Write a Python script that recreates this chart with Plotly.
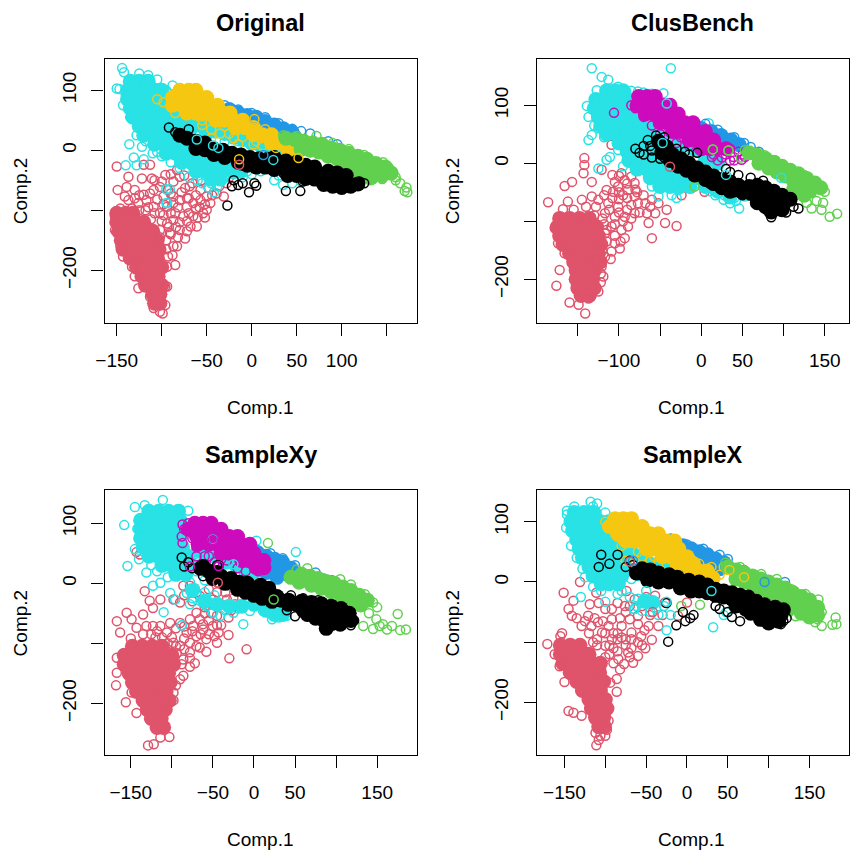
import plotly.graph_objects as go

BLACK, RED, GREEN, BLUE, CYAN, MAGENTA, YELLOW = "#000000", "#DF536B", "#61D04F", "#2297E6", "#28E2E5", "#CD0BBC", "#F5C710"

titles = ["Original", "ClusBench", "SampleXy", "SampleX"]
x_ticks = [[-150, -100, -50, 0, 50, 100, 150], [-200, -150, -100, -50, 0, 50, 100, 150],
           [-150, -100, -50, 0, 50, 100, 150], [-150, -100, -50, 0, 50, 100, 150]]
x_labels = [["−150", "", "−50", "0", "50", "100", ""], ["−200", "", "−100", "", "0", "50", "", "150"],
            ["−150", "", "−50", "0", "50", "", "150"], ["−150", "", "−50", "0", "50", "", "150"]]
y_ticks = [-200, -100, 0, 100]
y_labels = ["−200", "", "0", "100"]
x_ranges = [[-163.6, 183.7], [-199.9, 179.4], [-182, 198.5], [-184, 198.4]]
y_ranges = [[-287.8, 153], [-275.3, 180.7], [-286, 155], [-287, 152]]

# ---------- Original ----------
p1_red_core = [(-150,-105),(-140,-105),(-132,-105),(-150,-120),(-140,-120),(-130,-120),(-120,-120),(-148,-135),(-138,-135),(-128,-135),(-118,-135),(-110,-135),(-145,-150),(-135,-150),(-125,-150),(-115,-150),(-105,-150),(-143,-165),(-133,-165),(-123,-165),(-113,-165),(-103,-165),(-135,-180),(-125,-180),(-115,-180),(-105,-180),(-128,-195),(-118,-195),(-108,-195),(-100,-195),(-122,-210),(-112,-210),(-104,-210),(-118,-225),(-108,-225),(-100,-225),(-110,-240),(-102,-240),(-108,-255),(-102,-255)]
p1_red_open = [(-150,-27),(-137,-44),(-139,-61),(-149,-66),(-130,-66),(-122,-47),(-120,-24),(-113,-24),(-111,-47),(-141,-77),(-137,-83),(-120,-74),(-117,-83),(-126,-88),(-96,-41),(-102,-61),(-93,-66),(-83,-33),(-87,-52),(-76,-22),(-74,-63),(-70,-80),(-61,-38),(-50,-99),(-61,-127),(-68,-127),(-74,-147),(-85,-191),(-83,-160),(-94,-227),(-99,-272),(-152,-133),(-109,-94),(-102,-105),(-94,-94),(-87,-88),(-80,-83),(-72,-94),(-65,-88),(-57,-83),(-50,-77),(-46,-88),(-54,-105),(-65,-110),(-76,-110),(-87,-116),(-94,-122),(-80,-133),(-91,-138),(-102,-133),(-87,-160),(-93,-177),(-94,-194),(-39,-72),(-31,-77),(-43,-49),(-57,-66),(-69,-60),(-80,-44),(-87,-77),(-98,-77),(-109,-66),(-28,-55),(-50,-38),(-31,-22),(-152,-110),(-146,-97),(-133,-97),(-146,-160),(-143,-177),(-133,-194),(-130,-210),(-126,-230),(-113,-244),(-109,-263),(-102,-269),(-96,-258),(-96,-227),(-125,-75),(-113,-72),(-105,-82),(-98,-90),(-90,-72),(-82,-95),(-72,-80),(-62,-75),(-52,-90),(-44,-75),(-118,-100),(-108,-105),(-100,-118),(-90,-105),(-80,-120),(-70,-105),(-60,-112),(-52,-112),(-102,-145),(-92,-128),(-82,-145),(-72,-135),(-95,-165),(-88,-175),(-90,-140),(-78,-70),(-66,-55),(-56,-50),(-48,-62),(-36,-60),(-25,-45),(-130,-80),(-108,-50),(-100,-52),(-90,-40),(-75,-42),(-65,-28),(-55,-25),(-42,-35),(-20,-35),(-115,-95),(-125,-100),(-112,-115),(-98,-108),(-85,-105),(-72,-118),(-62,-98),(-58,-95),(-84,-128),(-95,-150)]
p1_cyan_core = [(-135,115),(-125,115),(-115,115),(-138,100),(-128,100),(-118,100),(-108,100),(-100,100),(-138,85),(-128,85),(-118,85),(-108,85),(-98,85),(-88,85),(-135,70),(-125,70),(-115,70),(-105,70),(-95,70),(-85,70),(-75,70),(-132,55),(-122,55),(-112,55),(-102,55),(-92,55),(-82,55),(-72,55),(-62,55),(-125,40),(-115,40),(-105,40),(-95,40),(-85,40),(-75,40),(-65,40),(-55,40),(-120,25),(-110,25),(-100,25),(-90,25),(-80,25),(-70,25),(-108,10),(-98,10),(-88,10),(-78,10),(-68,10),(-58,10),(-95,-5),(-85,-5),(-75,-5),(-65,-5),(-55,-5),(-45,-5),(-78,-20),(-68,-20),(-58,-20),(-48,-20),(-38,-20),(-28,-20),(-62,-35),(-52,-35),(-42,-35),(-32,-35),(-22,-35),(-12,-35),(-45,-48),(-35,-48),(-50,28),(-40,32),(-30,28),(-20,22),(-10,18),(0,12),(10,8),(20,3),(30,0),(-45,42),(-30,40),(-15,35)]
p1_cyan_open = [(-144,137),(-142,130),(-125,128),(-115,125),(-105,118),(-150,103),(-147,102),(-140,92),(-95,100),(-88,108),(-143,75),(-135,55),(-136,10),(-122,6),(-131,-12),(-140,-25),(-128,-25),(-120,-15),(-110,-5),(-100,-10),(-90,-20),(-80,-30),(-65,-25),(-55,-35),(-60,-50),(-45,-55),(-42,-70),(-30,-45),(-20,-40),(-10,-45),(-5,-35),(-40,-30),(-70,-45),(-95,-65),(-94,-88),(25,-50),(35,-58),(45,-55),(55,-52),(30,-42),(42,-45),(0,-40),(10,-35),(-100,92),(-92,85),(-60,65),(-50,50),(-40,40),(-25,35),(-15,15),(-5,20),(-30,15),(-128,25),(-118,15),(-105,-3),(-55,-55),(-48,-62),(-38,-60)]
p1_blue_core = [(-25,68),(-15,62),(-5,58),(5,55),(15,48),(25,42),(35,36),(45,30),(-10,50),(5,42),(20,35),(35,26),(48,22)]
p1_blue_open = [(-30,75),(-15,68),(0,62),(15,55),(30,45),(45,36),(55,32),(65,28),(85,15),(95,10)]
p1_yellow_core = [(-80,100),(-70,100),(-62,100),(-88,88),(-78,88),(-68,88),(-58,88),(-50,88),(-88,75),(-78,75),(-68,75),(-58,75),(-48,75),(-38,75),(-72,62),(-62,62),(-52,62),(-42,62),(-32,62),(-24,62),(-40,50),(-30,50),(-20,50),(-10,50),(-18,38),(-8,38),(2,38),(2,26),(12,26),(22,26),(22,12),(32,12),(40,2),(48,2)]
p1_yellow_open = [(-105,85),(-98,80),(-90,72),(-85,62),(-70,62),(-60,58),(-48,58),(-55,50),(-35,50),(-30,40),(-18,35),(-8,40),(-20,20),(-10,22),(-2,30),(10,20),(20,28),(28,20),(40,10),(50,-8),(30,-5),(-35,28),(-45,35),(-55,42),(-25,28),(-15,10),(2,10),(12,8),(15,35),(5,15),(-45,20)]
p1_green_core = [(38,20),(48,18),(58,15),(68,12),(78,10),(88,4),(98,0),(108,-5),(118,-10),(128,-15),(138,-22),(148,-28),(155,-38),(55,2),(65,0),(75,-3),(85,-10),(95,-14),(105,-20),(115,-26),(125,-32),(135,-38),(145,-42),(100,-28),(118,-38),(132,-46)]
p1_green_open = [(35,25),(50,24),(72,24),(90,12),(108,2),(125,-8),(146,-20),(152,-28),(170,-68),(172,-62),(165,-55),(160,-50),(155,-40),(173,-70),(145,-48),(135,-48),(150,-25),(160,-45)]
p1_black_core = [(-80,25),(-72,20),(-62,15),(-52,12),(-62,3),(-52,1),(-42,2),(-32,0),(-22,-5),(-42,-7),(-30,-12),(-12,-8),(-2,-12),(8,-14),(18,-15),(28,-20),(-15,-20),(-5,-25),(5,-28),(15,-28),(25,-32),(35,-30),(45,-30),(55,-32),(65,-35),(40,-42),(50,-42),(60,-47),(70,-48),(75,-40),(85,-45),(95,-48),(105,-50),(80,-57),(90,-60),(100,-62),(110,-60),(118,-56),(85,-35),(95,-38),(105,-42),(-8,-22),(25,-12),(38,-18),(50,-20),(60,-25),(70,-28)]
p1_black_open = [(-92,38),(-85,30),(-27,-92),(-3,-70),(5,-59),(38,-68),(54,-68),(-22,-60),(-15,-58),(-10,-55),(3,-55),(-20,-50),(57,-52),(125,-55),(120,-52),(-70,35),(-12,-25),(35,-38)]
p1_over = [(CYAN,-61,18),(CYAN,-43,8),(CYAN,-37,4),(CYAN,24,-16),(BLUE,13,-8),(YELLOW,-14,-15),(YELLOW,52,-13),(BLUE,3,52),(YELLOW,3,52),(CYAN,-91,-65),(CYAN,-95,-88),(YELLOW,27,4),(RED,-14,-24)]

# ---------- ClusBench ----------
p2_red_core = [(-172,-95),(-160,-95),(-148,-95),(-136,-95),(-175,-110),(-163,-110),(-151,-110),(-139,-110),(-127,-110),(-172,-125),(-160,-125),(-148,-125),(-136,-125),(-125,-125),(-168,-140),(-156,-140),(-144,-140),(-132,-140),(-122,-140),(-160,-155),(-148,-155),(-136,-155),(-125,-155),(-155,-170),(-143,-170),(-131,-170),(-123,-170),(-152,-185),(-140,-185),(-130,-185),(-152,-200),(-142,-200),(-132,-200),(-150,-215),(-140,-215),(-130,-215),(-146,-228),(-136,-228)]
p2_red_open = [(-186,-67),(-176,-211),(-172,-184),(-157,-32),(-166,-39),(-142,9),(-142,-3),(-143,-17),(-133,-32),(-121,-11),(-115,-46),(-168,-79),(-162,-66),(-141,-259),(-160,-240),(-149,-244),(-137,-233),(-125,-221),(-121,-178),(-119,-195),(-178,-112),(-174,-138),(-166,-155),(-145,-63),(-133,-57),(-125,-63),(-113,-69),(-101,-75),(-117,-86),(-105,-92),(-93,-92),(-89,-109),(-97,-115),(-93,-129),(-105,-138),(-109,-152),(-117,-161),(-99,-147),(-117,-121),(-109,-109),(-105,-32),(-97,-17),(-93,-29),(-85,-23),(-81,-34),(-89,-46),(-101,-40),(-107,-49),(-81,-57),(-77,-69),(-81,-86),(-68,-69),(-66,-86),(-56,-86),(-60,-63),(-52,-69),(-42,-80),(-64,-103),(-44,-103),(-30,-108),(-60,-129),(-38,-6),(-56,-23),(-48,-23),(-24,-55),(-12,-43),(4,-49),(-109,32),(-140,-75),(-128,-75),(-118,-55),(-108,-60),(-100,-62),(-90,-60),(-85,-72),(-112,-80),(-100,-85),(-90,-80),(-78,-50),(-70,-55),(-62,-75),(-118,-105),(-105,-105),(-95,-100),(-85,-95),(-75,-85),(-125,-140),(-115,-135),(-105,-125),(-120,-150),(-110,-165),(-98,-135),(-128,-165),(-122,-190),(-95,-55),(-100,-22),(-90,-35),(-108,-20),(-100,-50),(-80,-45),(-155,-80),(-130,-90),(-120,-95),(-122,-205),(-115,-115)]
p2_cyan_core = [(-115,125),(-105,125),(-95,125),(-128,110),(-116,110),(-104,110),(-92,110),(-80,110),(-130,95),(-118,95),(-106,95),(-94,95),(-82,95),(-125,80),(-113,80),(-101,80),(-89,80),(-77,80),(-68,80),(-122,65),(-110,65),(-98,65),(-86,65),(-74,65),(-62,65),(-115,50),(-103,50),(-91,50),(-79,50),(-67,50),(-55,50),(-100,35),(-88,35),(-76,35),(-64,35),(-54,35),(-90,20),(-78,20),(-66,20),(-55,20),(-88,5),(-76,5),(-64,5),(-52,5),(-40,5),(-78,-10),(-66,-10),(-54,-10),(-42,-10),(-30,-10),(-18,-10),(-62,-25),(-50,-25),(-38,-25),(-26,-25),(-14,-25),(-5,-25),(-50,-40),(-38,-40),(-26,-40),(-14,-40),(-45,35),(-35,40),(-25,30),(-10,25),(0,20),(10,10),(-35,55),(-20,40),(5,5),(20,0),(5,-40),(20,-48),(35,-58)]
p2_cyan_open = [(-133,164),(-37,164),(-121,149),(-113,144),(-101,132),(-127,126),(-139,99),(-137,80),(-137,40),(-133,49),(-91,124),(-77,124),(-46,121),(-42,103),(-125,-9),(-115,6),(-111,11),(-101,23),(-60,-40),(-36,-55),(-52,-57),(-28,-46),(-20,-32),(17,-55),(27,-63),(35,-69),(46,-78),(9,-40),(53,-57),(9,69),(-85,125),(-128,110),(-130,65),(-118,45),(-40,-15),(-20,-15),(-5,-35),(15,-45),(40,-60),(-30,-60),(22,-50),(32,-58),(42,-65),(10,-48),(28,-55),(-125,60),(-95,-5),(-60,120),(-70,122)]
p2_blue_core = [(0,60),(12,55),(24,48),(36,40),(46,32),(20,38),(34,28)]
p2_blue_open = [(5,68),(20,58),(40,45),(52,35),(60,28),(70,20)]
p2_magenta_core = [(-76,115),(-66,115),(-56,115),(-78,100),(-68,100),(-58,100),(-48,100),(-38,100),(-68,85),(-58,85),(-48,85),(-38,85),(-28,85),(-50,70),(-40,70),(-30,70),(-20,70),(-10,70),(-35,55),(-25,55),(-15,55),(-5,55),(5,55),(-15,40),(-5,40),(5,40),(15,40),(0,25),(10,25),(20,25),(30,25)]
p2_magenta_open = [(-85,100),(-80,95),(-70,80),(-60,65),(-50,50),(-40,55),(-25,45),(-15,30),(0,25),(-12,55),(3,50),(15,15),(25,10),(35,25),(39,11),(49,6),(53,11),(13,11),(45,20),(40,5),(30,15),(35,5),(50,15),(20,5),(-30,35),(-45,35)]
p2_green_core = [(58,18),(68,14),(78,8),(88,2),(98,-5),(108,-12),(118,-18),(128,-26),(138,-34),(145,-42),(70,0),(82,-8),(92,-15),(102,-22),(112,-30),(122,-38),(132,-48),(112,-45),(125,-55)]
p2_green_open = [(53,23),(62,18),(77,14),(90,5),(110,-11),(125,-20),(142,-37),(150,-49),(165,-87),(156,-92),(134,-78),(146,-80),(140,-65),(148,-68),(128,-68),(14,24),(33,22),(-8,-40)]
p2_black_core = [(-52,38),(-42,28),(-48,18),(-35,15),(-25,8),(-38,5),(-15,0),(-28,-5),(-5,-8),(-18,-12),(5,-15),(-8,-20),(15,-22),(5,-28),(25,-28),(15,-35),(35,-32),(25,-42),(45,-38),(35,-48),(50,-50),(58,-40),(68,-38),(78,-42),(88,-48),(98,-55),(108,-62),(60,-52),(70,-55),(80,-60),(90,-65),(100,-70),(68,-68),(78,-75),(88,-80),(98,-80),(85,-84)]
p2_black_open = [(-80,25),(-70,30),(-60,22),(-65,40),(-55,48),(-45,45),(-70,15),(-45,10),(-30,25),(-15,15),(-5,18),(10,-35),(25,-45),(40,-50),(50,-55),(112,-75),(118,-78),(103,-85),(85,-93),(30,-10),(45,-20),(-75,18),(-60,10),(-62,30),(-50,8),(-20,20),(35,-15),(60,-25),(75,-30)]
p2_over = [(CYAN,-42,103),(MAGENTA,-106,87),(RED,-38,-6),(CYAN,97,-25),(GREEN,33,22),(GREEN,14,24),(GREEN,48,10),(CYAN,-47,35),(CYAN,30,-20),(CYAN,-53,-40)]

# ---------- SampleXy ----------
p3_red_core = [(-148,-105),(-136,-105),(-124,-105),(-112,-105),(-158,-120),(-146,-120),(-134,-120),(-122,-120),(-110,-120),(-100,-120),(-158,-135),(-146,-135),(-134,-135),(-122,-135),(-110,-135),(-98,-135),(-152,-150),(-140,-150),(-128,-150),(-116,-150),(-104,-150),(-148,-165),(-136,-165),(-124,-165),(-112,-165),(-102,-165),(-143,-180),(-131,-180),(-119,-180),(-107,-180),(-135,-195),(-123,-195),(-111,-195),(-103,-195),(-130,-210),(-118,-210),(-108,-210),(-125,-225),(-113,-225),(-118,-240),(-110,-240)]
p3_red_open = [(-168,-170),(-156,-198),(-167,-63),(-163,-82),(-155,-49),(-149,-60),(-143,52),(-139,48),(-133,-13),(-127,-29),(-123,-41),(-114,-27),(-135,-52),(-143,-74),(-129,-270),(-122,-268),(-103,-256),(-114,-257),(-167,-149),(-167,-124),(-143,-216),(-149,-182),(-106,-210),(-98,-182),(-90,-160),(-86,-154),(-72,-133),(-78,-139),(-58,-114),(-66,-107),(-30,-125),(-9,-110),(-31,-86),(-43,-82),(-45,-99),(-58,-93),(-50,-71),(-62,-77),(-66,-60),(-74,-71),(-82,-82),(-78,-99),(-90,-104),(-98,-99),(-106,-82),(-114,-71),(-123,-71),(-131,-71),(-102,-66),(-90,-66),(-86,-127),(-94,-116),(-70,-88),(-70,-49),(-86,-4),(-98,-27),(-90,-32),(-66,-21),(-50,-27),(-33,-27),(-23,-35),(-43,1),(-78,-4),(-45,-54),(-31,-57),(-135,-85),(-120,-90),(-150,-92),(-60,-40),(-125,-85),(-112,-90),(-100,-90),(-85,-92),(-75,-80),(-65,-85),(-55,-85),(-48,-88),(-95,-75),(-85,-72),(-78,-60),(-62,-68),(-55,-62),(-45,-70),(-85,-110),(-78,-115),(-70,-105),(-95,-105),(-88,-135),(-78,-125),(-118,-80),(-105,-100),(-95,-170),(-98,-195),(-60,-50),(-40,-70),(-52,-50),(-60,-30),(-70,-15),(-55,-10),(-85,-20),(-75,-30),(-45,-15),(-35,-15),(-25,-25),(-40,-35),(-28,-45)]
p3_cyan_core = [(-128,120),(-116,120),(-104,120),(-92,120),(-138,105),(-126,105),(-114,105),(-102,105),(-90,105),(-138,90),(-126,90),(-114,90),(-102,90),(-90,90),(-138,75),(-126,75),(-114,75),(-102,75),(-90,75),(-135,60),(-123,60),(-111,60),(-99,60),(-87,60),(-128,45),(-116,45),(-104,45),(-92,45),(-80,45),(-112,30),(-100,30),(-88,30),(-76,30),(-95,15),(-83,15),(-60,50),(-48,45),(-35,35),(-22,30),(-10,20),(0,18),(-68,55),(-60,-30),(-45,-35),(-30,-38),(-15,-38),(0,-35),(15,-45),(25,-52),(35,-52),(-75,-12)]
p3_cyan_open = [(-111,139),(-145,127),(-133,130),(-158,97),(-142,91),(-145,57),(-154,29),(-131,18),(-90,123),(-80,121),(3,71),(51,52),(-13,-68),(-88,-70),(-110,-48),(-123,-4),(-114,1),(-102,-16),(-96,-27),(-82,-16),(-58,-38),(-50,-49),(-41,-54),(-25,-49),(-5,-46),(11,-46),(22,-60),(30,-57),(40,-54),(-9,-27),(3,-32),(-50,73),(-25,32),(-9,23),(-65,-30),(-75,-25),(-40,-35),(-30,-40),(-15,-35),(15,-40),(-70,20),(-60,5),(-78,-35),(-140,40),(-125,30),(-35,45),(-55,30),(-75,45),(-68,35),(-78,2),(-72,-8),(-60,-15),(-48,-20),(-35,-45),(-20,-42),(28,-50),(36,-50),(-118,20),(-105,10)]
p3_blue_core = [(5,50),(15,45),(25,40),(35,35),(45,25),(20,28),(32,22),(42,14),(28,10),(15,18)]
p3_blue_open = [(5,55),(20,50),(35,42),(50,30),(85,8),(95,5),(75,18)]
p3_magenta_core = [(-72,100),(-62,100),(-52,100),(-80,90),(-70,90),(-60,90),(-50,90),(-40,90),(-70,78),(-60,78),(-50,78),(-40,78),(-30,78),(-20,78),(-68,65),(-55,65),(-45,65),(-35,65),(-25,65),(-15,65),(-5,65),(-40,50),(-30,50),(-20,50),(-10,50),(0,50),(-15,38),(-5,38),(5,38),(12,38),(3,26),(12,26)]
p3_magenta_open = [(-85,90),(-80,100),(-88,78),(-87,67),(-55,45),(-40,40),(-33,38),(-20,25),(-75,75),(-70,60),(-50,72),(-10,20),(5,20),(-43,29),(-60,45),(-70,45),(-48,35)]
p3_green_core = [(58,15),(68,12),(78,8),(88,3),(98,0),(108,-6),(118,-12),(128,-20),(138,-28),(70,-3),(82,-8),(94,-14),(106,-20),(118,-28),(130,-36),(45,10),(55,2)]
p3_green_open = [(17,67),(52,23),(65,25),(50,10),(105,7),(118,-2),(135,-18),(145,-32),(150,-40),(175,-51),(185,-77),(178,-78),(162,-77),(153,-71),(145,-76),(133,-71),(149,-60),(168,-71),(157,-68),(140,-50)]
p3_black_core = [(-65,25),(-55,20),(-50,8),(-40,12),(-35,0),(-25,2),(-15,-3),(-5,-5),(5,-8),(15,-12),(-20,-10),(-10,-15),(0,-20),(10,-25),(22,-30),(32,-28),(42,-35),(52,-35),(62,-38),(72,-40),(82,-42),(92,-45),(102,-50),(112,-55),(65,-52),(75,-58),(85,-62),(95,-67),(105,-68),(88,-75),(58,-30),(70,-32),(82,-34),(94,-38),(106,-42),(116,-50),(60,-45),(72,-48),(84,-52),(96,-56),(108,-58),(118,-62),(-62,28),(-45,18),(-28,8),(-18,2),(-8,0),(8,-3),(18,-8),(18,-22),(28,-22),(42,-28)]
p3_black_open = [(-88,43),(-80,35),(-75,25),(-85,28),(-45,30),(-62,12),(40,-45),(50,-55),(118,-70),(122,-62),(-43,30),(78,-28),(60,-25),(45,-20)]
p3_over = [(CYAN,-50,73),(MAGENTA,-50,72),(MAGENTA,-87,98),(MAGENTA,-43,29),(RED,-44,1),(GREEN,24,-27),(CYAN,-88,-70),(MAGENTA,-78,28),(CYAN,-25,32),(MAGENTA,-33,50)]

# ---------- SampleX ----------
p4_red_core = [(-155,-105),(-143,-105),(-131,-105),(-155,-120),(-143,-120),(-131,-120),(-120,-120),(-152,-135),(-140,-135),(-128,-135),(-116,-135),(-106,-135),(-143,-150),(-131,-150),(-119,-150),(-107,-150),(-135,-165),(-123,-165),(-111,-165),(-102,-165),(-128,-180),(-118,-180),(-106,-180),(-120,-195),(-110,-195),(-100,-195),(-117,-210),(-107,-210),(-98,-210),(-112,-225),(-102,-225),(-108,-240),(-101,-240)]
p4_red_open = [(-171,-103),(-151,-18),(-131,0),(-139,-31),(-145,-45),(-141,-56),(-155,-90),(-153,-85),(-162,-120),(-156,-140),(-150,-166),(-145,-214),(-139,-217),(-129,-222),(-111,-271),(-96,-230),(-98,-245),(-86,-182),(-86,-161),(-94,-167),(-77,-136),(-66,-134),(-51,-110),(-43,-96),(-60,-123),(-72,-117),(-84,-128),(-92,-95),(-104,-84),(-117,-73),(-129,-73),(-121,-56),(-109,-67),(-96,-73),(-80,-73),(-68,-84),(-56,-90),(-47,-73),(-35,-73),(-60,-56),(-76,-40),(-92,-45),(-111,-18),(-119,-37),(-88,-1),(-74,-15),(-64,-29),(-39,-23),(-27,-34),(-11,-56),(0,-34),(-100,-106),(-68,-109),(-85,-95),(-75,-95),(-110,-95),(-120,-85),(-90,-110),(-135,-60),(-95,-120),(-125,-65),(-113,-60),(-103,-65),(-92,-62),(-82,-60),(-70,-62),(-60,-70),(-52,-80),(-100,-85),(-90,-85),(-80,-92),(-68,-95),(-60,-100),(-95,-105),(-85,-115),(-75,-105),(-55,-105),(-90,-135),(-82,-145),(-70,-125),(-100,-125),(-110,-105),(-115,-100),(-75,-50),(-85,-35),(-70,-40),(-55,-40),(-45,-55),(-30,-55),(-50,-25),(-100,-45),(-108,-35),(-85,-85),(-106,-255),(-100,-255),(-112,-250),(-108,-262)]
p4_cyan_core = [(-138,115),(-126,115),(-114,115),(-142,100),(-130,100),(-118,100),(-106,100),(-96,100),(-140,85),(-128,85),(-116,85),(-104,85),(-94,85),(-135,70),(-123,70),(-111,70),(-99,70),(-90,70),(-132,55),(-120,55),(-108,55),(-96,55),(-84,55),(-128,40),(-116,40),(-104,40),(-92,40),(-80,40),(-120,25),(-108,25),(-96,25),(-84,25),(-115,10),(-103,10),(-91,10),(-80,10),(-105,-3),(-95,-3),(-84,-3),(-52,-32),(-42,-34),(-65,45),(-50,35),(-35,30),(-20,25),(-8,18),(2,12),(12,8),(-75,25),(-72,60),(-78,72)]
p4_cyan_open = [(-118,133),(-110,130),(-115,125),(-138,125),(-147,118),(-147,112),(-148,90),(-100,115),(-142,60),(-135,40),(-128,22),(-125,8),(-115,-8),(-105,-15),(-85,-20),(-130,-25),(-100,-33),(-65,-45),(32,-75),(-25,-80),(-20,-55),(45,-55),(-38,-45),(-65,45),(-60,25),(-80,30),(-20,55),(-55,-48),(48,-50),(-35,-55),(-45,-50),(-28,-40),(-80,-15),(-70,-25),(-90,50),(-75,15),(-70,55),(-75,70),(-85,82),(-68,5),(-60,10),(-60,-28),(-62,-40)]
p4_blue_core = [(-15,65),(-5,60),(5,55),(15,50),(25,45),(35,38),(45,32),(18,38),(30,30),(40,22)]
p4_blue_open = [(-20,72),(0,62),(20,55),(40,45),(50,38),(95,5),(120,0),(70,20),(85,10)]
p4_yellow_core = [(-88,105),(-78,105),(-68,105),(-95,92),(-85,92),(-75,92),(-65,92),(-55,92),(-85,80),(-75,80),(-65,80),(-55,80),(-45,80),(-35,80),(-75,68),(-65,68),(-55,68),(-45,68),(-35,68),(-25,68),(-15,68),(-50,55),(-40,55),(-30,55),(-20,55),(-10,55),(-30,42),(-20,42),(-10,42),(0,42),(-12,30),(-2,30),(8,30),(5,18),(15,18),(25,18),(22,6),(32,6)]
p4_yellow_open = [(-80,60),(-70,65),(-85,75),(-95,90),(-100,100),(-55,42),(-45,35),(-25,30),(5,38),(15,30),(50,20),(55,18),(70,8),(45,25),(-75,35),(25,18),(40,12),(-60,50),(-40,42),(-15,18),(-5,15),(30,25)]
p4_green_core = [(50,25),(60,20),(70,15),(80,10),(90,5),(100,0),(110,-5),(120,-10),(130,-18),(140,-24),(150,-30),(60,5),(70,0),(80,-5),(90,-12),(100,-17),(110,-24),(120,-30),(130,-35),(140,-38),(150,-45),(160,-42),(160,-55),(125,-45),(140,-52),(150,-58)]
p4_green_open = [(47,32),(65,25),(91,13),(110,5),(128,-12),(145,-20),(161,-29),(160,-45),(165,-50),(182,-59),(183,-70),(178,-71),(165,-73),(157,-67),(133,-57),(150,-55),(160,-62),(-7,-40),(16,-38)]
p4_black_core = [(-62,15),(-52,12),(-40,10),(-28,8),(-48,3),(-35,0),(-22,0),(-10,-2),(0,-5),(10,-5),(-8,-10),(5,-15),(15,-15),(25,-18),(35,-22),(45,-25),(55,-28),(65,-32),(75,-38),(85,-42),(95,-48),(105,-52),(115,-55),(72,-45),(85,-52),(97,-62),(108,-62),(-55,22),(-45,20),(-35,15),(-22,12),(-12,8),(2,3),(15,0),(25,-5),(35,-12),(45,-15),(55,-18),(65,-22),(75,-25),(85,-32),(95,-38),(108,-42),(118,-46),(60,-40),(78,-52),(90,-62),(100,-68),(112,-65)]
p4_black_open = [(-105,45),(-85,45),(-95,30),(-108,25),(-70,35),(-75,25),(-25,-35),(-13,-72),(-2,-65),(8,-55),(4,-60),(-23,-99),(65,-65),(55,-58),(40,-45),(-5,-50),(115,-70),(118,-65),(122,-60),(35,-40),(50,-50),(-66,28)]
p4_over = [(BLUE,-66,35),(RED,-70,34),(CYAN,-64,-45),(CYAN,30,-15),(RED,-42,-50),(BLUE,95,0),(YELLOW,52,20),(YELLOW,70,8),(CYAN,-50,-15),(CYAN,-25,-33)]

panels = [
    ([(RED, p1_red_core, p1_red_open), (CYAN, p1_cyan_core, p1_cyan_open), (BLUE, p1_blue_core, p1_blue_open),
      (YELLOW, p1_yellow_core, p1_yellow_open), (GREEN, p1_green_core, p1_green_open), (BLACK, p1_black_core, p1_black_open)], p1_over),
    ([(RED, p2_red_core, p2_red_open), (CYAN, p2_cyan_core, p2_cyan_open), (BLUE, p2_blue_core, p2_blue_open),
      (MAGENTA, p2_magenta_core, p2_magenta_open), (GREEN, p2_green_core, p2_green_open), (BLACK, p2_black_core, p2_black_open)], p2_over),
    ([(RED, p3_red_core, p3_red_open), (CYAN, p3_cyan_core, p3_cyan_open), (BLUE, p3_blue_core, p3_blue_open),
      (MAGENTA, p3_magenta_core, p3_magenta_open), (GREEN, p3_green_core, p3_green_open), (BLACK, p3_black_core, p3_black_open)], p3_over),
    ([(RED, p4_red_core, p4_red_open), (CYAN, p4_cyan_core, p4_cyan_open), (BLUE, p4_blue_core, p4_blue_open),
      (YELLOW, p4_yellow_core, p4_yellow_open), (GREEN, p4_green_core, p4_green_open), (BLACK, p4_black_core, p4_black_open)], p4_over),
]

W, H = 850, 852
boxes = [(104.5, 417, 58.5, 323), (536.7, 849, 58.5, 323), (104.5, 417, 490.3, 755), (536.7, 849, 490.3, 755)]
xlab_pos = [(260.7, 407), (691.7, 407), (260.7, 839.3), (691.7, 839.3)]
ylab_pos = [(20.7, 190.5), (452.7, 190.5), (20.7, 622.7), (452.7, 622.7)]
FONT = "Liberation Sans"
fig = go.Figure()
layout = dict(width=W, height=H, margin=dict(l=0, r=0, t=0, b=0), paper_bgcolor="white", plot_bgcolor="white",
              showlegend=False, font=dict(family=FONT, size=19, color="black"))
annotations = []
OPEN = dict(symbol="circle-open", size=9)
RING = dict(width=1.5)


def px(x, y):
    return dict(x=x / W, y=1 - y / H, xref="paper", yref="paper", showarrow=False, xanchor="center", yanchor="middle")


for i, (clusters, over) in enumerate(panels):
    s = "" if i == 0 else str(i + 1)
    l, r, t, b = boxes[i]
    layout[f"xaxis{s}"] = dict(domain=[l / W, r / W], range=x_ranges[i], anchor=f"y{s}", tickvals=x_ticks[i], ticktext=x_labels[i],
                               ticks="outside", ticklen=12, tickwidth=1, tickcolor="black", showline=True, linecolor="black", linewidth=1.2,
                               mirror=True, showgrid=False, zeroline=False, tickangle=0, ticklabelstandoff=8, automargin=False)
    layout[f"yaxis{s}"] = dict(domain=[1 - b / H, 1 - t / H], range=y_ranges[i], anchor=f"x{s}", tickvals=y_ticks, ticktext=y_labels,
                               ticks="outside", ticklen=12, tickwidth=1, tickcolor="black", showline=True, linecolor="black", linewidth=1.2,
                               mirror=True, showgrid=False, zeroline=False, tickangle=-90, ticklabelstandoff=8, automargin=False)
    annotations.append(dict(px((l + r) / 2, t - 35), text=f"<b>{titles[i]}</b>", font=dict(family=FONT, size=23.5)))
    annotations.append(dict(px(*xlab_pos[i]), text="Comp.1", font=dict(family=FONT, size=19)))
    annotations.append(dict(px(*ylab_pos[i]), text="Comp.2", font=dict(family=FONT, size=19), textangle=-90))
    for color, core, open_pts in clusters:
        fig.add_trace(go.Scatter(x=[p[0] for p in core], y=[p[1] for p in core], mode="markers", xaxis=f"x{s}", yaxis=f"y{s}",
                                 marker=dict(symbol="circle", size=15, color=color)))
        fig.add_trace(go.Scatter(x=[p[0] for p in open_pts], y=[p[1] for p in open_pts], mode="markers", xaxis=f"x{s}", yaxis=f"y{s}",
                                 marker=dict(OPEN, color=color, line=dict(RING, color=color))))
    for color, x, y in over:
        fig.add_trace(go.Scatter(x=[x], y=[y], mode="markers", xaxis=f"x{s}", yaxis=f"y{s}",
                                 marker=dict(OPEN, color=color, line=dict(RING, color=color))))

layout["annotations"] = annotations
fig.update_layout(**layout)
fig.write_html("out.html", config={"displayModeBar": False},
               post_script="document.body.style.margin='0';")
